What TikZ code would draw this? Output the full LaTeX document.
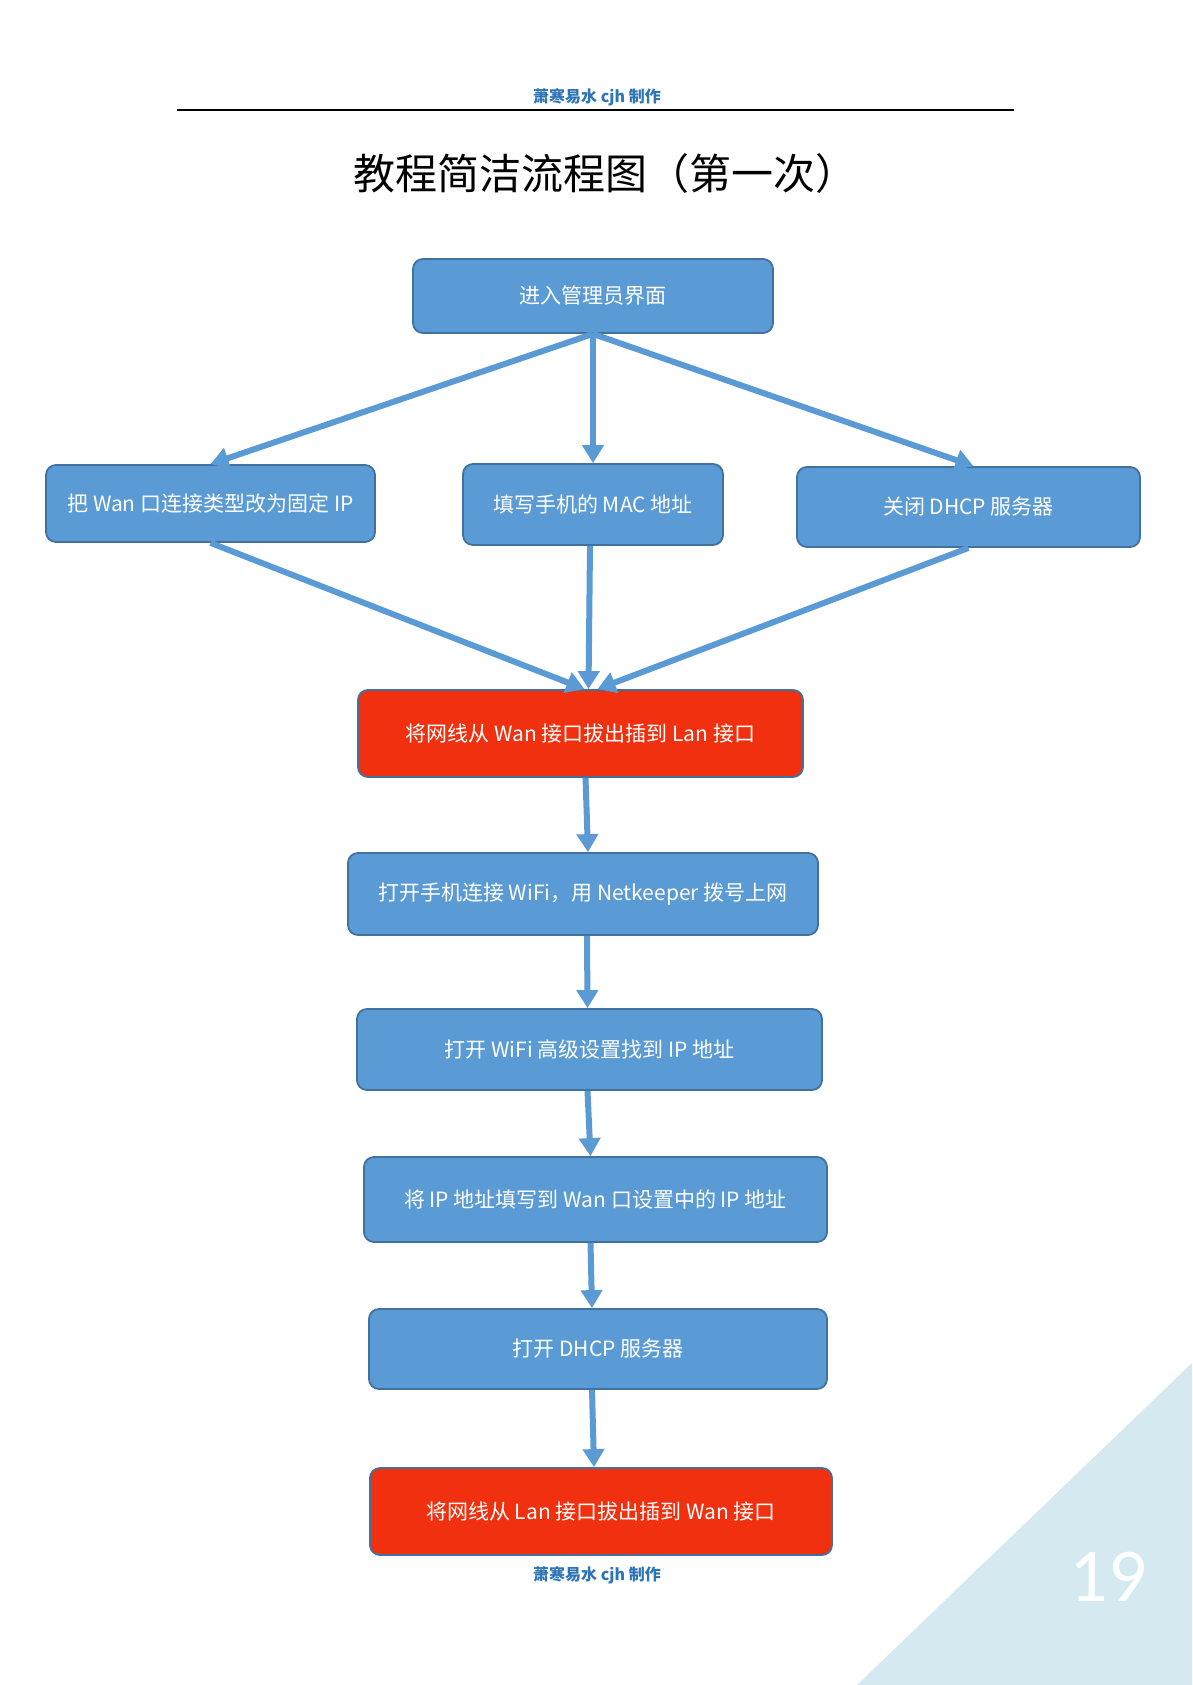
\documentclass[tikz,border=0pt]{standalone}
\usepackage{fontspec}
\setmainfont{Noto Sans CJK SC}
\newfontfamily\pagenumfont{Carlito}
\usetikzlibrary{%
   arrows.meta,%
   positioning%
}
\definecolor{boxblue}{HTML}{5B9BD5}
\definecolor{edgeblue}{HTML}{41719C}
\definecolor{plugred}{HTML}{F0300F}
\definecolor{signblue}{HTML}{2E75B6}
\definecolor{cornerblue}{HTML}{D5E9F0}

\begin{document}
\begin{tikzpicture}[x=1pt,y=-1pt,action/.style={
	rectangle,
	rounded corners=10pt,
	line width=1.8pt,
	draw=edgeblue,
	fill=boxblue,
	text=white,
	inner sep=0pt,
	font=\fontsize{21}{25}\selectfont
	},plug/.style={
	action,fill=plugred
	},flow/.style={
	line width=6pt,draw=boxblue,
	-{Triangle[width=21pt,length=18pt]}
	},sign/.style={
	text=signblue,font=\fontsize{16}{19}\selectfont\bfseries
	}
]

% page
\fill[white] (0,0) rectangle (1192,1685);
\useasboundingbox (0,0) rectangle (1192,1685);
\fill[cornerblue] (857,1685) -- (1192,1685) -- (1192,1363) -- cycle;
\node (pagenum) at (1108,1577) [text=white,font=\pagenumfont\fontsize{76}{80}\selectfont] {19};

% header and title
\node (sign1) at (597,97) [sign] {萧寒易水 cjh 制作};
\draw[line width=1.6pt] (177,110) -- (1014,110);
\node (title) at (605,174) [font=\fontsize{42}{48}\selectfont] {教程简洁流程图（第一次）};

% First row
\node (atom0) at (593,296) [action,minimum width=360pt,minimum height=74pt] {进入管理员界面};
% Second row
\node (atom1) at (210.5,503.5) [action,minimum width=329pt,minimum height=77pt] {把 Wan 口连接类型改为固定 IP};
\node (atom2) at (593,504.5) [action,minimum width=260pt,minimum height=81pt] {填写手机的 MAC 地址};
\node (atom3) at (968.5,507) [action,minimum width=343pt,minimum height=80pt] {关闭 DHCP 服务器};
% the long column
\node (atom4) at (580.5,733.5) [plug,minimum width=445pt,minimum height=87pt] {将网线从 Wan 接口拔出插到 Lan 接口};
\node (atom5) at (583,894) [action,minimum width=470pt,minimum height=82pt] {打开手机连接 WiFi，用 Netkeeper 拨号上网};
\node (atom6) at (589.5,1049.5) [action,minimum width=465pt,minimum height=81pt] {打开 WiFi 高级设置找到 IP 地址};
\node (atom7) at (595.5,1199.5) [action,minimum width=463pt,minimum height=85pt] {将 IP 地址填写到 Wan 口设置中的 IP 地址};
\node (atom8) at (598,1349) [action,minimum width=458pt,minimum height=80pt] {打开 DHCP 服务器};
\node (atom9) at (601,1511.5) [plug,minimum width=462pt,minimum height=87pt] {将网线从 Lan 接口拔出插到 Wan 接口};

\node (sign2) at (597,1575) [sign] {萧寒易水 cjh 制作};

\path	(atom0.south) edge[flow] (atom1.north)
	(atom0.south) edge[flow] (atom2.north)
	(atom0.south) edge[flow] ([xshift=5pt]atom3.north);
\path	(atom1.south) edge[flow] ([xshift=4pt]atom4.north)
	([xshift=-3pt]atom2.south) edge[flow] ([xshift=8pt]atom4.north)
	(atom3.south) edge[flow] ([xshift=17pt]atom4.north);
\path	([xshift=5pt]atom4.south) edge[flow] ([xshift=5pt]atom5.north)
	([xshift=4pt]atom5.south) edge[flow] ([xshift=-2pt]atom6.north)
	([xshift=-2pt]atom6.south) edge[flow] ([xshift=-5pt]atom7.north)
	([xshift=-5pt]atom7.south) edge[flow] ([xshift=-6pt]atom8.north)
	([xshift=-6pt]atom8.south) edge[flow] ([xshift=-7pt]atom9.north);

\end{tikzpicture}
\end{document}
